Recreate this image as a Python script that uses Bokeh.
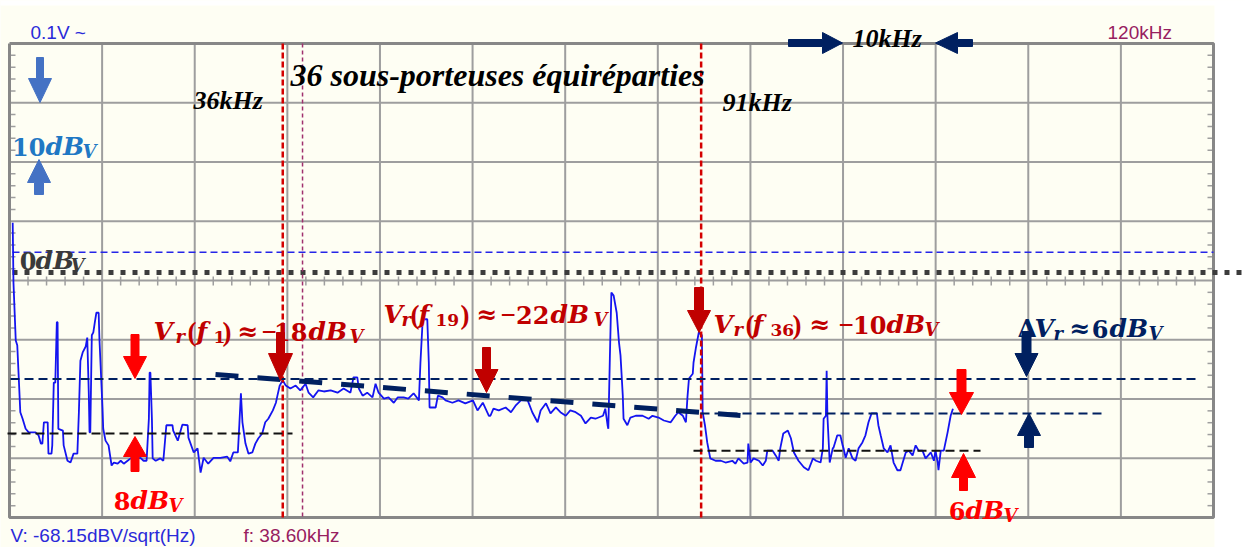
from bokeh.plotting import figure
from bokeh.models import Range1d
from bokeh.embed import file_html
from bokeh.resources import INLINE
from bokeh.core.properties import value

# ---------------- data: spectrum trace (frequency in kHz, level in dBV) ----------------
freq_khz = [
    0.5, 0.6, 0.9, 1.1, 1.3, 1.5, 1.8, 2.2, 2.6, 3.5,
    3.9, 4.2, 4.4, 4.6, 5.1, 5.2, 5.6, 5.7, 5.9, 6.1,
    6.3, 6.4, 6.5, 7.1, 7.2, 7.7, 8.1, 8.5, 9.0, 9.2,
    9.4, 9.7, 10.1, 10.3, 10.5, 10.6, 10.7, 10.9, 11.1, 11.3,
    11.5, 11.8, 11.9, 12.3, 12.4, 12.7, 13.1, 13.5, 13.8, 14.3,
    14.7, 15.1, 15.6, 16.0, 16.9, 17.3, 17.7, 18.1, 18.4, 18.5,
    18.6, 18.8, 18.9, 19.3, 19.9, 20.3, 20.7, 21.5, 21.6, 22.2,
    22.8, 23.5, 23.6, 24.3, 24.8, 25.2, 25.6, 26.2, 26.9, 27.8,
    28.7, 29.1, 29.5, 30.1, 30.3, 30.5, 30.7, 31.1, 31.5, 32.0,
    32.4, 32.8, 33.3, 33.7, 34.1, 34.7, 35.1, 35.3, 35.6, 36.0,
    36.4, 37.0, 37.7, 38.3, 39.0, 39.4, 40.0, 40.7, 41.4, 42.3,
    43.2, 44.0, 44.9, 45.3, 45.8, 46.0, 46.5, 47.1, 47.8, 48.2,
    48.6, 49.3, 49.9, 50.6, 51.1, 51.9, 52.5, 53.2, 53.9, 54.1,
    54.4, 55.0, 55.2, 55.3, 56.1, 56.4, 57.0, 57.4, 58.3, 59.1,
    60.0, 61.0, 61.6, 62.3, 63.1, 63.3, 63.7, 64.4, 65.3, 66.0,
    66.6, 67.3, 68.2, 68.8, 69.5, 69.9, 70.6, 71.2, 71.9, 72.5,
    73.2, 73.8, 74.5, 75.2, 75.8, 76.5, 77.1, 78.1, 78.4, 78.7,
    78.8, 79.0, 79.2, 79.5, 79.9, 80.2, 80.4, 80.7, 80.8, 81.3,
    81.7, 82.4, 83.3, 84.1, 84.6, 85.4, 86.1, 87.0, 87.6, 88.0,
    88.6, 89.0, 89.2, 89.4, 89.9, 90.0, 90.3, 90.7, 91.1, 91.2,
    91.5, 91.8, 92.2, 92.9, 93.6, 94.2, 95.1, 95.5, 95.9, 96.6,
    97.1, 97.2, 97.5, 97.9, 98.6, 99.1, 99.5, 99.7, 100.4, 100.8,
    101.2, 101.4, 101.8, 102.4, 102.8, 103.2, 103.8, 104.5, 105.1, 105.7,
    106.1, 106.7, 107.0, 107.1, 107.4, 107.5, 107.6, 107.9, 108.3, 108.4,
    108.9, 109.3, 109.6, 109.7, 110.0, 110.4, 110.9, 111.3, 111.7, 112.2,
    112.6, 113.0, 113.4, 114.1, 114.3, 114.6, 115.0, 115.5, 115.9, 116.3,
    116.8, 117.2, 117.5, 117.9, 118.3, 118.8, 119.2, 119.6, 120.1, 120.5,
    121.2, 121.6, 121.8, 122.1, 122.2, 122.5, 122.9, 123.4, 123.8, 124.1,
]
level_dbv = [
    8.4, -1.7, -11.5, -12.3, -17.9, -23.6, -24.7, -26.4, -27.0, -27.0,
    -27.5, -28.9, -28.9, -25.3, -25.3, -30.6, -30.6, -29.2, -18.6, -18.6,
    -8.4, -8.4, -26.4, -26.7, -29.2, -31.8, -32.1, -30.6, -30.6, -23.6,
    -14.9, -13.5, -12.5, -11.0, -20.3, -27.0, -27.0, -10.6, -10.1, -8.4,
    -6.8, -6.8, -11.2, -22.8, -26.4, -28.4, -29.2, -32.6, -32.1, -32.3,
    -31.8, -32.3, -31.8, -31.4, -31.4, -31.3, -31.8, -31.8, -24.7, -16.9,
    -16.9, -24.7, -31.4, -31.8, -31.4, -31.8, -25.8, -25.8, -26.7, -28.4,
    -25.7, -25.8, -27.9, -30.4, -29.7, -33.8, -31.3, -32.3, -31.3, -31.3,
    -31.1, -31.9, -30.4, -30.4, -25.5, -20.4, -25.3, -28.9, -30.6, -30.4,
    -28.9, -28.0, -27.2, -25.3, -24.7, -23.3, -22.0, -20.8, -19.1, -18.2,
    -19.1, -19.6, -19.1, -19.9, -18.8, -20.3, -21.1, -19.9, -20.1, -19.9,
    -20.3, -19.6, -20.3, -17.7, -17.7, -19.6, -20.8, -20.3, -21.1, -18.8,
    -20.3, -21.3, -21.1, -22.0, -21.1, -21.1, -21.3, -20.4, -21.6, -15.2,
    -7.9, -7.9, -15.2, -22.8, -22.8, -20.8, -21.1, -21.6, -22.0, -21.6,
    -22.1, -21.6, -23.3, -22.0, -24.2, -24.2, -23.0, -23.3, -22.8, -23.6,
    -22.5, -21.6, -21.6, -23.6, -25.3, -23.3, -22.1, -23.8, -22.8, -23.6,
    -24.2, -23.3, -23.6, -24.2, -25.5, -24.5, -24.7, -24.2, -23.0, -25.8,
    -26.4, -14.5, -3.4, -3.9, -6.8, -11.8, -14.0, -20.8, -24.7, -25.8,
    -24.5, -24.2, -24.2, -24.7, -24.2, -24.5, -25.0, -25.3, -24.2, -23.6,
    -24.2, -25.3, -21.1, -17.9, -17.1, -15.2, -12.8, -10.1, -10.6, -23.6,
    -25.8, -28.7, -31.4, -31.8, -31.8, -32.1, -31.8, -32.3, -31.4, -32.3,
    -32.1, -28.9, -32.1, -31.4, -31.8, -32.6, -31.8, -30.1, -30.1, -30.9,
    -31.8, -29.7, -27.2, -26.7, -28.0, -30.4, -31.8, -32.9, -33.4, -31.4,
    -31.8, -32.1, -29.7, -24.7, -24.2, -16.6, -24.2, -32.1, -29.7, -29.6,
    -27.5, -27.5, -29.2, -29.6, -31.3, -29.7, -31.4, -31.8, -29.7, -28.7,
    -27.5, -25.3, -23.8, -23.8, -25.8, -27.5, -29.7, -30.4, -29.2, -32.1,
    -33.4, -33.4, -32.1, -30.4, -30.1, -30.9, -29.2, -30.1, -30.1, -31.4,
    -30.4, -31.8, -30.1, -32.1, -33.4, -30.1, -30.1, -27.0, -24.2, -23.0,
]

# annotation values
f_first_khz = 36.0
f_last_khz = 91.0
f_cursor_khz = 38.60
ref_0_dbv = 0.0
scope_ref_dbv = 3.4

# ---------------- screen <-> data mapping (pixels of the 1245x547 picture) ----------------
PX_PER_KHZ = 7.607
PX_AT_0KHZ = 8.4
PX_PER_DB = 5.92
PY_AT_0DB = 272.0
W, H = 1245, 547


def X(px):
    return (px - PX_AT_0KHZ) / PX_PER_KHZ


def Y(py):
    return (PY_AT_0DB - py) / PX_PER_DB


CREAM = "#FEFEF3"
p = figure(width=W, height=H,
           x_range=Range1d(X(0), X(W)), y_range=Range1d(Y(H), Y(0)),
           x_axis_type=None, y_axis_type=None, toolbar_location=None,
           output_backend="svg", min_border=0)
p.outline_line_color = None
p.background_fill_color = CREAM
p.border_fill_color = CREAM

# white margins of the screenshot
p.quad(left=[X(1214), X(-5)], right=[X(W + 5), X(W + 5)], bottom=[Y(H + 5), Y(5)],
       top=[Y(-5), Y(-5)], fill_color="white", line_color=None)

# ---------------- graticule ----------------
GL, GR, GT, GB = 9.0, 1213.0, 43.0, 517.0
DX = (GR - GL) / 13
DY = (GB - GT) / 8
GRID = "#9E9E9E"
vx = [GL + k * DX for k in range(1, 13)]
p.segment(x0=[X(v) for v in vx], y0=[Y(GT)] * len(vx), x1=[X(v) for v in vx], y1=[Y(GB)] * len(vx),
          line_color=GRID, line_width=2)
hy = [GT + j * DY for j in range(1, 8)]
p.segment(x0=[X(GL)] * len(hy), y0=[Y(h) for h in hy], x1=[X(GR)] * len(hy), y1=[Y(h) for h in hy],
          line_color=GRID, line_width=2)
# minor ticks
tx0, ty0, tx1, ty1 = [], [], [], []
for j in range(8):
    for i in range(1, 5):
        yy = GT + (j + i / 5) * DY
        tx0 += [X(GL), X(GR - 6)]
        tx1 += [X(GL + 6), X(GR)]
        ty0 += [Y(yy), Y(yy)]
        ty1 += [Y(yy), Y(yy)]
for k in range(13):
    for i in range(1, 5):
        xx = GL + (k + i / 5) * DX
        tx0.append(X(xx)); tx1.append(X(xx))
        ty0.append(Y(GT + 4 * DY - 4)); ty1.append(Y(GT + 4 * DY + 5))
p.segment(x0=tx0, y0=ty0, x1=tx1, y1=ty1, line_color=GRID, line_width=1.5)
# border
p.line(x=[X(GL), X(GR), X(GR), X(GL), X(GL)], y=[Y(GT), Y(GT), Y(GB), Y(GB), Y(GT)],
       line_color="#878787", line_width=3)

# ---------------- reference lines ----------------
p.line(x=[X(12), X(GR)], y=[scope_ref_dbv, scope_ref_dbv], line_color="#2525E8",
       line_width=1.5, line_dash="7 4")
p.line(x=[X(12), X(W + 5)], y=[ref_0_dbv, ref_0_dbv], line_color="#3C3C3C",
       line_width=5, line_dash="5 7")
p.line(x=[f_cursor_khz, f_cursor_khz], y=[Y(GT), Y(GB)], line_color="#A0306E",
       line_width=1.5, line_dash="4 3")

# ---------------- trace ----------------
p.line(x=freq_khz, y=level_dbv, line_color="#1414F0", line_width=1.8)

# vertical red dashed limits
for f in (f_first_khz, f_last_khz):
    p.line(x=[f, f], y=[Y(GT), Y(GB)], line_color="#D40000", line_width=2.5, line_dash="6 3")

# horizontal annotation dashes
NAVY = "#002060"
p.line(x=[X(10), X(1197)], y=[-18, -18], line_color=NAVY, line_width=2, line_dash="9 5")
p.line(x=[X(700), X(1103)], y=[-23.8, -23.8], line_color=NAVY, line_width=2, line_dash="9 5")
p.line(x=[X(7), X(292)], y=[-27.2, -27.2], line_color="#111111", line_width=2, line_dash="9 5")
p.line(x=[X(693), X(980)], y=[-30.1, -30.1], line_color="#111111", line_width=2, line_dash="9 5")
# sloped trend of the sub-carrier levels
p.line(x=[X(215), X(740)], y=[Y(374), Y(415)], line_color=NAVY, line_width=5, line_dash="23 19")


# ---------------- block arrows ----------------
def varrow(cx, y_tail, y_tip, sw, hw, hl):
    s = 1 if y_tip > y_tail else -1
    yh = y_tip - s * hl
    pts = [(cx - sw / 2, y_tail), (cx + sw / 2, y_tail), (cx + sw / 2, yh), (cx + hw / 2, yh),
           (cx, y_tip), (cx - hw / 2, yh), (cx - sw / 2, yh)]
    return [X(a) for a, _ in pts], [Y(b) for _, b in pts]


def harrow(x_tail, x_tip, cy, sw, hw, hl):
    s = 1 if x_tip > x_tail else -1
    xh = x_tip - s * hl
    pts = [(x_tail, cy - sw / 2), (x_tail, cy + sw / 2), (xh, cy + sw / 2), (xh, cy + hw / 2),
           (x_tip, cy), (xh, cy - hw / 2), (xh, cy - sw / 2)]
    return [X(a) for a, _ in pts], [Y(b) for _, b in pts]


arrows = [
    (varrow(39.5, 57, 102, 7, 23, 24), "#4472C4"),
    (varrow(38.5, 194, 159, 9, 23, 23), "#4472C4"),
    (varrow(134.5, 334, 378, 8, 23, 22), "#FF0000"),
    (varrow(134.5, 471, 436, 8, 23, 20), "#FF0000"),
    (varrow(961, 369, 414, 9, 24, 22), "#FF0000"),
    (varrow(963, 490, 453, 8, 24, 24), "#FF0000"),
    (varrow(280, 332, 380, 8, 24, 27), "#C00000"),
    (varrow(486, 347, 392, 8, 23, 23), "#C00000"),
    (varrow(698.5, 287, 332, 9, 23, 22), "#C00000"),
    (varrow(1026, 331, 376, 9, 23, 23), NAVY),
    (varrow(1028.5, 447, 413, 9, 23, 22), NAVY),
    (harrow(788, 842, 42.5, 7, 21, 20), NAVY),
    (harrow(972, 935, 42.5, 7, 21, 22), NAVY),
]
for (xs, ys), c in arrows:
    p.patch(x=xs, y=ys, fill_color=c, line_color=c, line_width=1)


# ---------------- texts ----------------
def put(s, px, py, size, color, font, style="normal", align="left"):
    p.text(x=[X(px)], y=[Y(py)], text=[s], text_font=value(font), text_font_style=style,
           text_font_size=f"{size}px", text_color=color, text_baseline="alphabetic",
           text_align=align)


SANS = "Liberation Sans"
put("0.1V ~", 30, 32, 19, "#2A2AD9", SANS)
put("120kHz", 1107, 32, 19, "#97205F", SANS)
put("V: -68.15dBV/sqrt(Hz)", 10, 535, 19, "#2A2AD9", SANS)
put("f: 38.60kHz", 243, 535, 19, "#97205F", SANS)

TIMES = "Liberation Serif"
put("36 sous-porteuses équiréparties", 290, 74, 32, "black", TIMES, "bold italic")
put("36kHz", 193, 100, 26, "black", TIMES, "bold italic")
put("91kHz", 722, 102, 26, "black", TIMES, "bold italic")
put("10kHz", 852, 38, 26, "black", TIMES, "bold italic")

MS = "DejaVu Serif"


def math(pieces, base, color):
    for s, px, kind in pieces:
        if kind == "L":      # italic letters
            put(s, px, base, 25, color, MS, "bold italic")
        elif kind == "l":    # subscript italic letters
            put(s, px, base + 5, 18, color, MS, "bold italic")
        elif kind == "P":    # brackets / minus
            put(s, px, base, 27, color, TIMES, "bold")
        elif kind == "N":    # digits, right-aligned at px
            put(s, px, base, 24, color, MS, "bold", "right")
        elif kind == "d":    # subscript digits
            put(s, px, base + 5, 17, color, MS, "bold")
        elif kind == "O":    # operators
            put(s, px, base, 25, color, MS, "bold")
        elif kind == "G":    # greek capital
            put(s, px, base, 25, color, MS, "bold")


DR = "#C00000"
math([("V", 153, "L"), ("r", 175, "l"), ("(", 187, "P"), ("f", 196, "L"), ("1", 213, "d"),
      (")", 222, "P"), ("≈", 237, "O"), ("−", 261, "P"), ("18", 307, "N"), ("dB", 308, "L"),
      ("V", 349, "l")], 331, DR)
math([("V", 383, "L"), ("r", 401, "l"), ("(", 410, "P"), ("f", 418, "L"), ("19", 435, "d"),
      (")", 460, "P"), ("≈", 476, "O"), ("−", 500, "P"), ("22", 549, "N"), ("dB", 550, "L"),
      ("V", 593, "l")], 314, DR)
math([("V", 713, "L"), ("r", 733, "l"), ("(", 745, "P"), ("f", 752, "L"), ("36", 770, "d"),
      (")", 792, "P"), ("≈", 809, "O"), ("−", 838, "P"), ("10", 886, "N"), ("dB", 886, "L"),
      ("V", 924, "l")], 324, DR)
math([("Δ", 1017, "G"), ("V", 1034, "L"), ("r", 1053, "l"), ("≈", 1069, "O"), ("6", 1108, "N"),
      ("dB", 1109, "L"), ("V", 1148, "l")], 328, NAVY)
math([("8", 130, "N"), ("dB", 130, "L"), ("V", 168, "l")], 500, "#FF0000")
math([("6", 965, "N"), ("dB", 965, "L"), ("V", 1003, "l")], 510, "#FF0000")
math([("10", 45, "N"), ("dB", 45, "L"), ("V", 82, "l")], 146, "#1F78C4")
math([("0", 36, "N"), ("dB", 35, "L"), ("V", 70, "l")], 260, "#3A3A3A")

open("out.html", "w").write(file_html(p, INLINE))
